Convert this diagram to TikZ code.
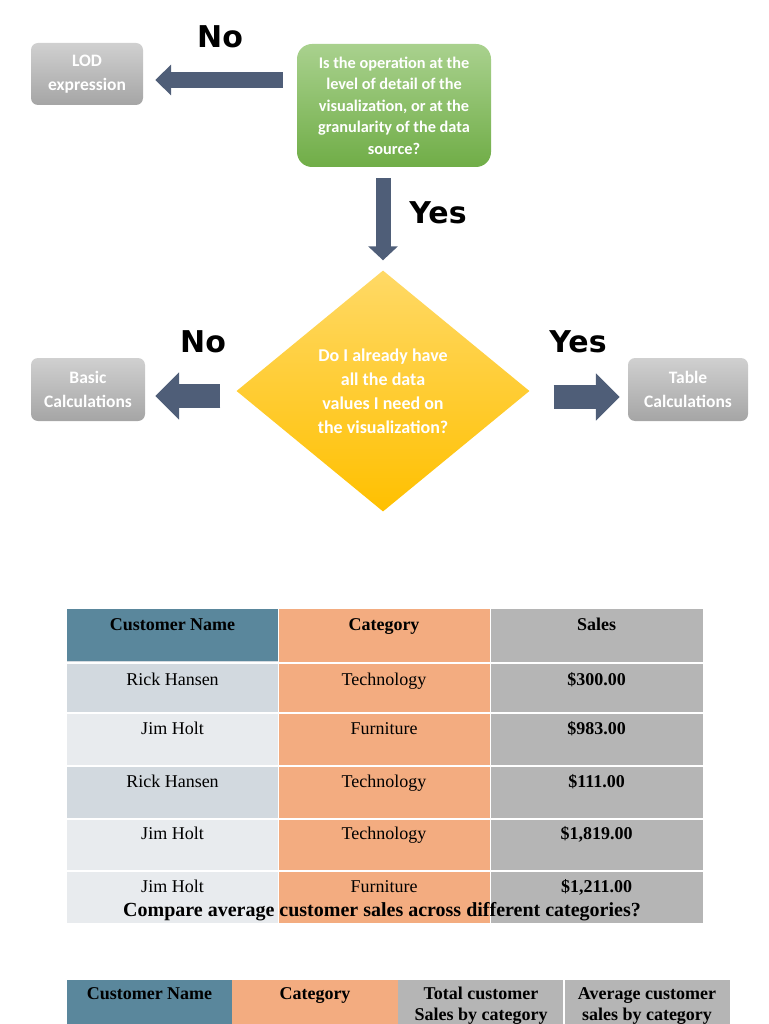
\documentclass[tikz,border=0pt]{standalone}
\usepackage{fontspec}
\setmainfont{Liberation Serif}
\newfontfamily\boxfont{Carlito}
\newfontfamily\labelfont{DejaVu Sans}
\usetikzlibrary{shapes.geometric,arrows.meta}
\definecolor{arrowslate}{HTML}{4F5E78}
\definecolor{greytop}{HTML}{D0D0D0}
\definecolor{greybot}{HTML}{A5A5A5}
\definecolor{greentop}{HTML}{A9D18E}
\definecolor{greenbot}{HTML}{70AD47}
\definecolor{yellowtop}{HTML}{FFD966}
\definecolor{yellowbot}{HTML}{FFC000}
\definecolor{steel}{HTML}{5A879C}
\definecolor{salmon}{HTML}{F3AC80}
\definecolor{midgrey}{HTML}{B5B5B5}
\definecolor{paleblue}{HTML}{D2D9DF}
\definecolor{palegrey}{HTML}{E8EBEE}
\tikzset{
  choice/.style={rounded corners=7pt, top color=greytop, bottom color=greybot, text=white,
    align=center, inner sep=0pt, font=\boxfont\bfseries\fontsize{17.5}{24}\selectfont},
  bigarrow/.style={draw=arrowslate, line width=#1},
  answer/.style={font=\labelfont\bfseries\fontsize{30}{30}\selectfont},
  cell/.style={anchor=base, align=center, font=\fontsize{18}{21}\selectfont},
  headcell/.style={cell, font=\bfseries\fontsize{18}{21}\selectfont}
}

\begin{document}
\begin{tikzpicture}[x=1pt,y=-1pt]
		\useasboundingbox (0,0) rectangle (768,1024);
		% decision chart
		\node[choice, minimum width=112pt, minimum height=62pt] (lod) at (87,74) {LOD\\expression};
		\node[rounded corners=15pt, top color=greentop, bottom color=greenbot, text=white, align=center, inner sep=0pt,
			minimum width=194pt, minimum height=123pt, font=\boxfont\bfseries\fontsize{16.3}{21.5}\selectfont]
			(quest) at (394,105.5) {Is the operation at the\\level of detail of the\\visualization, or at the\\granularity of the data\\source?};
		\node[diamond, top color=yellowtop, bottom color=yellowbot, text=white, align=center, inner sep=0pt,
			minimum width=293pt, minimum height=241pt, font=\boxfont\bfseries\fontsize{18}{24}\selectfont]
			(decide) at (383,391) {Do I already have\\all the data\\values I need on\\the visualization?};
		\node[choice, minimum width=114pt, minimum height=63pt] (basic) at (88,389.5) {Basic\\Calculations};
		\node[choice, minimum width=120pt, minimum height=63pt] (tabcalc) at (688,389.5) {Table\\Calculations};
		\draw[bigarrow=16pt, -{Triangle[length=16pt,width=30pt]}, shorten <=14pt, shorten >=12pt] (quest.west |- 0,80) -- (lod.east |- 0,80);
		\draw[bigarrow=15pt, -{Triangle[length=14pt,width=29pt]}, shorten <=11pt, shorten >=10pt] (decide.north |- quest.south) -- (decide.north);
		\draw[bigarrow=24pt, -{Triangle[length=24pt,width=46pt]}, shorten <=16pt, shorten >=10pt] (decide.west |- 0,396) -- (basic.east |- 0,396);
		\draw[bigarrow=24pt, -{Triangle[length=24pt,width=46pt]}, shorten <=24pt, shorten >=8pt] (decide.east |- 0,397) -- (tabcalc.west |- 0,397);
		\node[answer] (topno) at (220,37) {No};
		\node[answer] (topyes) at (438,213) {Yes};
		\node[answer] (leftno) at (203,342) {No};
		\node[answer] (rightyes) at (578,342) {Yes};
		% sales table
		\fill[steel] (67,609) rectangle (278,661);
		\fill[paleblue] (67,661) rectangle (278,923);
		\fill[palegrey] (67,712) rectangle (278,766);\fill[palegrey] (67,818) rectangle (278,923);
		\fill[salmon] (278,609) rectangle (490,923);
		\fill[midgrey] (490,609) rectangle (703,923);
		\draw[white, line width=2pt] (67,662.5) -- (703,662.5) (67,712.5) -- (703,712.5) (67,766) -- (703,766)
			(67,818.5) -- (703,818.5) (67,871) -- (703,871);
		\draw[white, line width=1pt] (278,609) -- (278,923) (490,609) -- (490,923);
		\node[headcell] (hname) at (172.5,630) {Customer Name};
		\node[headcell] (hcat) at (384,630) {Category};
		\node[headcell] (hsales) at (596.5,630) {Sales};
		\node[cell] (name1) at (172.5,685) {Rick Hansen};\node[cell] (cat1) at (384,685) {Technology};\node[headcell] (sale1) at (596.5,685) {\$300.00};
		\node[cell] (name2) at (172.5,734) {Jim Holt};\node[cell] (cat2) at (384,734) {Furniture};\node[headcell] (sale2) at (596.5,734) {\$983.00};
		\node[cell] (name3) at (172.5,787) {Rick Hansen};\node[cell] (cat3) at (384,787) {Technology};\node[headcell] (sale3) at (596.5,787) {\$111.00};
		\node[cell] (name4) at (172.5,839) {Jim Holt};\node[cell] (cat4) at (384,839) {Technology};\node[headcell] (sale4) at (596.5,839) {\$1,819.00};
		\node[cell] (name5) at (172.5,892) {Jim Holt};\node[cell] (cat5) at (384,892) {Furniture};\node[headcell] (sale5) at (596.5,892) {\$1,211.00};
		\node[headcell, font=\bfseries\fontsize{20}{22}\selectfont] (question) at (382,916) {Compare average customer sales across different categories?};
		% average table
		\fill[steel] (67,980) rectangle (232,1024);
		\fill[salmon] (232,980) rectangle (398,1024);
		\fill[midgrey] (398,980) rectangle (730,1024);
		\draw[white, line width=1.5pt] (564,980) -- (564,1024);
		\node[headcell] (aname) at (149.5,999) {Customer Name};
		\node[headcell] (acat) at (315,999) {Category};
		\node[headcell] (atotal) at (481,1020) {Total customer\\Sales by category};
		\node[headcell] (aavg) at (647,1020) {Average customer\\sales by category};
	\end{tikzpicture}
\end{document}
